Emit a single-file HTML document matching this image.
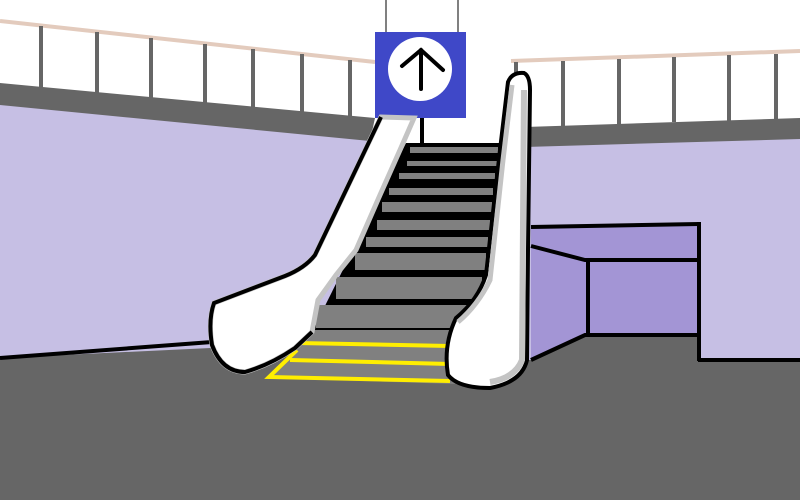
<!DOCTYPE html>
<html><head><meta charset="utf-8"><style>html,body{margin:0;padding:0;background:#fff}svg{display:block}</style></head>
<body>
<svg width="800" height="500" viewBox="0 0 800 500" xmlns="http://www.w3.org/2000/svg">
<rect width="800" height="500" fill="#fff"/>
<!-- floor -->
<rect x="0" y="330" width="800" height="170" fill="#666"/>
<!-- left wall -->
<polygon points="0,100 375,136 380,340 0,358" fill="#c6bfe4"/>
<polygon points="0,83 375,118 370,141 0,105" fill="#666"/>
<line x1="0" y1="21" x2="375" y2="62" stroke="#e3cbbd" stroke-width="4"/>
<g stroke="#666" stroke-width="4">
<line x1="41" y1="26" x2="41" y2="88"/><line x1="97" y1="32" x2="97" y2="94"/><line x1="151" y1="38" x2="151" y2="99"/>
<line x1="205" y1="44" x2="205" y2="104"/><line x1="253" y1="49" x2="253" y2="109"/><line x1="302" y1="54" x2="302" y2="113"/><line x1="350" y1="60" x2="350" y2="118"/>
</g>
<line x1="0" y1="358" x2="212" y2="342" stroke="#000" stroke-width="4"/>
<!-- right wall -->
<polygon points="525,145 800,137 800,360 525,360" fill="#c6bfe4"/>
<polygon points="525,127 800,118 800,139 525,147" fill="#666"/>
<line x1="511" y1="61" x2="800" y2="51" stroke="#e3cbbd" stroke-width="4"/>
<g stroke="#666" stroke-width="4">
<line x1="516" y1="62" x2="516" y2="128"/><line x1="563" y1="61" x2="563" y2="126"/><line x1="619" y1="59" x2="619" y2="124"/>
<line x1="674" y1="57" x2="674" y2="122"/><line x1="729" y1="55" x2="729" y2="121"/><line x1="776" y1="54" x2="776" y2="119"/>
</g>
<!-- recess box -->
<polygon points="531,226 699,224 699,335 585,335 531,360" fill="#a395d5"/>
<polygon points="699,335 699,362 531,362 585,335" fill="#666"/>
<g stroke="#000" stroke-width="4" fill="none">
<line x1="531" y1="227" x2="699" y2="224"/>
<polyline points="531,246 585,260 699,260"/>
<line x1="588" y1="260" x2="588" y2="336"/>
<polyline points="531,360 585,335 699,335"/>
<line x1="699" y1="222" x2="699" y2="361"/>
<line x1="698" y1="360" x2="800" y2="360"/>
</g>
<!-- sign -->
<line x1="386" y1="0" x2="386" y2="32" stroke="#000" stroke-width="1"/>
<line x1="458" y1="0" x2="458" y2="32" stroke="#000" stroke-width="1"/>
<line x1="422" y1="116" x2="422" y2="146" stroke="#000" stroke-width="4"/>
<g>
<rect x="375" y="32" width="91" height="86" fill="#3f48c8"/>
<circle cx="420" cy="69" r="32" fill="#fff"/>
<line x1="421" y1="50" x2="421" y2="89" stroke="#000" stroke-width="4" stroke-linecap="round"/>
<polyline points="402,66 421,50 443,70" fill="none" stroke="#000" stroke-width="4" stroke-linecap="round"/>
</g>
<!-- steps -->
<polygon points="406,143 500,143 482,332 312,332" fill="#000"/>
<polygon points="312,330 460,330 455,384 270,378" fill="#808080"/>
<g fill="#808080">
<polygon points="410,147 498,147 498,153 410,153"/>
<polygon points="407,161 497,161 497,166 407,166"/>
<polygon points="399,173 495,173 495,179 399,179"/>
<polygon points="389,188 493,188 493,195 389,195"/>
<polygon points="382,202 492,202 492,212 382,212"/>
<polygon points="377,220 490,220 490,230 377,230"/>
<polygon points="366,237 488,237 488,247 366,247"/>
<polygon points="355,253 486,253 486,270 355,270"/>
<polygon points="336,277 482,277 482,299 336,299"/>
<polygon points="316,305 470,305 470,328 316,328"/>
</g>
<g stroke="#ffee00" stroke-width="4" fill="none">
<line x1="298" y1="343" x2="450" y2="346"/>
<line x1="290" y1="360" x2="450" y2="364"/>
<polyline points="297,350 269,377 450,381"/>
</g>
<!-- left balustrade -->
<path d="M381,117 L315,255 Q305,268 285,276 L214,303 Q208,320 212,345 Q222,372 245,372 Q270,365 295,348 L312,332 L318,300 L336,275 L356,250 L380,195 L400,150 L414,118 Z" fill="#fff" stroke="#c4c4c4" stroke-width="5"/>
<path d="M381,117 L315,255 Q305,268 285,276 L214,303 Q208,320 212,345 Q222,372 245,372 Q270,365 295,348 L312,332" fill="none" stroke="#000" stroke-width="4"/>
<!-- right balustrade -->
<path d="M508,82 Q512,72 524,73 Q530,76 530,90 L528,250 L527,360 Q522,382 490,388 Q458,388 448,375 Q443,345 456,318 Q478,300 486,275 L500,150 Z" fill="#fff" stroke="#000" stroke-width="4"/>
<path d="M512,85 L503,160 L490,280 Q478,305 458,322" fill="none" stroke="#c4c4c4" stroke-width="5"/>
<path d="M524,90 L522,360 Q515,378 490,382" fill="none" stroke="#c4c4c4" stroke-width="6"/>
</svg>
</body></html>
